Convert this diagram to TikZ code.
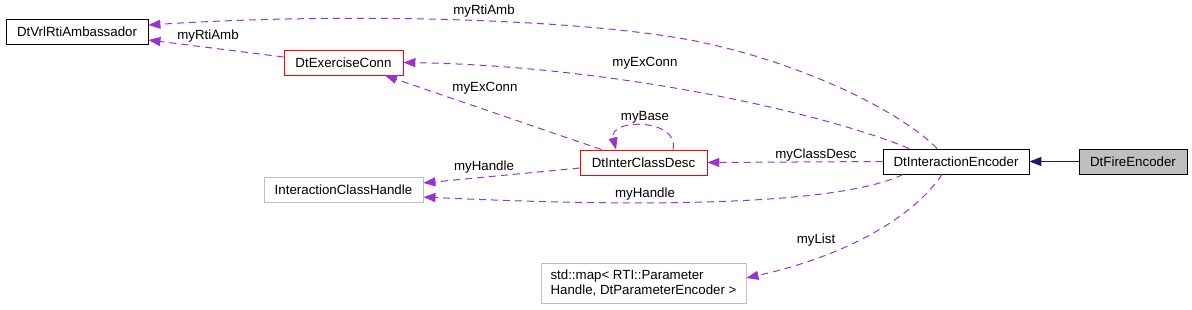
\documentclass[tikz,border=0pt]{standalone}
\usepackage{fontspec}
\setmainfont{Liberation Sans}
\usepackage{xcolor}
\usepackage{tikz}
\usetikzlibrary{arrows.meta,positioning}

\definecolor{edgepurple}{HTML}{9A32CD}
\definecolor{edgenavy}{HTML}{191970}
\definecolor{boxgray}{HTML}{BFBFBF}

\begin{document}
\begin{tikzpicture}[
    x=1pt, y=-1pt,
    font=\fontsize{13.3pt}{15pt}\selectfont,
    box/.style={draw, line width=0.9pt, minimum height=25pt, inner sep=0pt},
    redbox/.style={box, draw=red},
    graybox/.style={box, draw=boxgray},
    lbl/.style={inner sep=1pt},
    dep/.style={-{Triangle[length=12pt, width=9pt, fill=edgepurple]}, draw=edgepurple, line width=1pt, dash pattern=on 7pt off 5pt},
    inherit/.style={-{Triangle[length=12pt, width=9pt, fill=edgenavy]}, draw=edgenavy, line width=1pt}
  ]

  \useasboundingbox (0,0) rectangle (1192,309);

  % Classes
  \node[box, minimum width=142pt] (ambassador) at (77,31.5) {DtVrlRtiAmbassador};
  \node[redbox, minimum width=119pt] (exconn) at (343.5,62.5) {DtExerciseConn};
  \node[redbox, minimum width=127pt] (classdesc) at (643.5,162.5) {DtInterClassDesc};
  \node[graybox, minimum width=159pt] (handle) at (343.5,189.5) {InteractionClassHandle};
  \node[box, minimum width=146pt] (encoder) at (956,161.5) {DtInteractionEncoder};
  \node[box, fill=boxgray, minimum width=108pt] (fire) at (1133,161.5) {DtFireEncoder};
  \node[graybox, minimum width=205pt, minimum height=40pt, align=left] (paramap) at (643.5,283.5)
    {std::map< RTI::Parameter\\Handle, DtParameterEncoder >};

  % Labels
  \node[lbl] (lrtitop) at (484,11) {myRtiAmb};
  \node[lbl] (lrtileft) at (208,36) {myRtiAmb};
  \node[lbl] (lexconntop) at (645,63) {myExConn};
  \node[lbl] (lexconn) at (485,88) {myExConn};
  \node[lbl] (lbase) at (645,117) {myBase};
  \node[lbl] (lhandle) at (484,167) {myHandle};
  \node[lbl] (lhandlelow) at (645,194) {myHandle};
  \node[lbl] (lclassdesc) at (816,155) {myClassDesc};
  \node[lbl] (llist) at (816,240) {myList};

  % Connectors
  \draw[dep] ([xshift=-19pt]encoder.north) .. controls (905,115) and (810,65) .. (700,42)
    .. controls (590,19) and (350,12) .. ([yshift=6.5pt]ambassador.east);
  \draw[dep] ([yshift=5.5pt]exconn.west) -- ([yshift=-8.5pt]ambassador.east);
  \draw[dep] ([xshift=-47pt]encoder.north) .. controls (830,115) and (620,66) .. (exconn.east);
  \draw[dep] ([xshift=-42pt]classdesc.north) -- ([xshift=41.5pt]exconn.south);
  \draw[dep] ([xshift=29.5pt]classdesc.north) .. controls (680,118) and (608,118) .. ([xshift=-27.5pt]classdesc.north);
  \draw[dep] ([yshift=-5.5pt]classdesc.west) -- ([yshift=6.5pt]handle.east);
  \draw[dep] ([xshift=-53pt]encoder.south) .. controls (850,200) and (700,210) .. ([yshift=-7.5pt]handle.east);
  \draw[dep] (encoder.west) -- (classdesc.east);
  \draw[dep] ([xshift=-14pt]encoder.south) .. controls (915,215) and (850,255) .. ([yshift=5.5pt]paramap.east);
  \draw[inherit] (fire.west) -- (encoder.east);

\end{tikzpicture}
\end{document}
